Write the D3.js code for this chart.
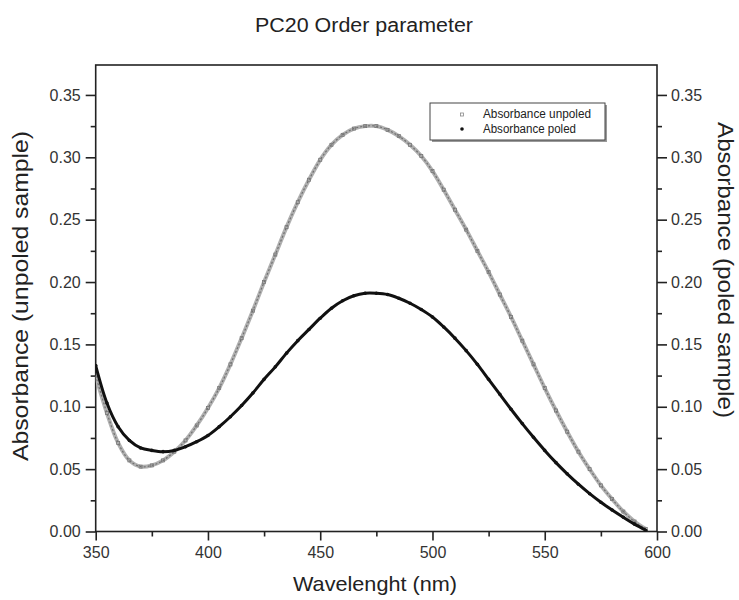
<!DOCTYPE html>
<html>
<head>
<meta charset="utf-8">
<script src="https://cdn.jsdelivr.net/npm/d3@7"></script>
<style>
  html, body { margin: 0; padding: 0; background: #fff; }
  svg { display: block; font-family: Arial, "Liberation Sans", sans-serif; }
</style>
</head>
<body>
<svg id="chart" width="739" height="600"></svg>
<script>
const title = "PC20 Order parameter";
const xLabel = "Wavelenght (nm)";
const yLabelLeft = "Absorbance (unpoled sample)";
const yLabelRight = "Absorbance (poled sample)";
const seriesNames = ["Absorbance unpoled", "Absorbance poled"];

const wavelengths = [350,355,360,365,370,375,380,385,390,395,400,405,410,415,420,425,430,435,440,445,450,455,460,465,470,475,480,485,490,495,500,505,510,515,520,525,530,535,540,545,550,555,560,565,570,575,580,585,590,595];
const unpoled = [0.125,0.095,0.071,0.057,0.052,0.053,0.057,0.064,0.073,0.085,0.099,0.115,0.134,0.155,0.177,0.200,0.222,0.244,0.264,0.282,0.298,0.310,0.318,0.323,0.325,0.325,0.322,0.317,0.310,0.301,0.289,0.274,0.258,0.242,0.225,0.208,0.190,0.172,0.153,0.134,0.115,0.097,0.080,0.064,0.050,0.037,0.026,0.016,0.008,0.002];
const poled = [0.133,0.103,0.084,0.073,0.067,0.065,0.064,0.065,0.068,0.072,0.077,0.084,0.092,0.101,0.111,0.122,0.132,0.143,0.153,0.162,0.171,0.179,0.185,0.189,0.191,0.191,0.190,0.187,0.183,0.178,0.172,0.164,0.155,0.145,0.134,0.122,0.110,0.098,0.0865,0.0755,0.065,0.0552,0.0462,0.0379,0.0303,0.0234,0.0172,0.0114,0.0059,0.001];

const xTicks = [350,400,450,500,550,600];
const xMinor = [375,425,475,525,575];
const yTicks = [0.00,0.05,0.10,0.15,0.20,0.25,0.30,0.35];
const yMinor = [0.025,0.075,0.125,0.175,0.225,0.275,0.325];

const svg = d3.select("#chart");
const m = {left: 95.7, right: 657, top: 65, bottom: 531.5};
const x = d3.scaleLinear().domain([350, 600]).range([m.left, m.right]);
const y = d3.scaleLinear().domain([0, 0.374]).range([m.bottom, m.top]);

const fmt = d3.format(".2f");
const axisColor = "#222";

// frame
svg.append("rect").attr("x", m.left).attr("y", m.top)
  .attr("width", m.right - m.left).attr("height", m.bottom - m.top)
  .attr("fill", "none").attr("stroke", axisColor).attr("stroke-width", 1.6);

// axes
const bottom = svg.append("g").attr("transform", `translate(0,${m.bottom})`)
  .call(d3.axisBottom(x).tickValues(xTicks).tickFormat(d3.format("d")).tickSize(9).tickPadding(6));
const bottomMinor = svg.append("g").attr("transform", `translate(0,${m.bottom})`)
  .call(d3.axisBottom(x).tickValues(xMinor).tickFormat("").tickSize(5));
const left = svg.append("g").attr("transform", `translate(${m.left},0)`)
  .call(d3.axisLeft(y).tickValues(yTicks).tickFormat(fmt).tickSize(10).tickPadding(5));
const leftMinor = svg.append("g").attr("transform", `translate(${m.left},0)`)
  .call(d3.axisLeft(y).tickValues(yMinor).tickFormat("").tickSize(5));
const right = svg.append("g").attr("transform", `translate(${m.right},0)`)
  .call(d3.axisRight(y).tickValues(yTicks).tickFormat(fmt).tickSize(10).tickPadding(4));
const rightMinor = svg.append("g").attr("transform", `translate(${m.right},0)`)
  .call(d3.axisRight(y).tickValues(yMinor).tickFormat("").tickSize(5));

[bottom, bottomMinor, left, leftMinor, right, rightMinor].forEach(g => {
  g.select(".domain").remove();
  g.selectAll("line").attr("stroke", axisColor).attr("stroke-width", 1.6);
  g.selectAll("text").attr("fill", "#333").style("font-size", "16px")
    .style("font-family", "Arial, 'Liberation Sans', sans-serif");
});

// titles
svg.append("text").attr("x", 364).attr("y", 32).attr("text-anchor", "middle")
  .style("font-size", "20px").attr("fill", "#222")
  .attr("textLength", 218).attr("lengthAdjust", "spacingAndGlyphs").text(title);
svg.append("text").attr("x", 375).attr("y", 591).attr("text-anchor", "middle")
  .style("font-size", "21px").attr("fill", "#222")
  .attr("textLength", 164).attr("lengthAdjust", "spacingAndGlyphs").text(xLabel);
svg.append("text").attr("transform", `translate(28,296) rotate(-90)`)
  .attr("text-anchor", "middle").style("font-size", "22px").attr("fill", "#222")
  .attr("textLength", 330).attr("lengthAdjust", "spacingAndGlyphs").text(yLabelLeft);
svg.append("text").attr("transform", `translate(718,270) rotate(90)`)
  .attr("text-anchor", "middle").style("font-size", "22px").attr("fill", "#222")
  .attr("textLength", 296).attr("lengthAdjust", "spacingAndGlyphs").text(yLabelRight);

// series
svg.append("clipPath").attr("id", "clip").append("rect")
  .attr("x", m.left).attr("y", m.top).attr("width", m.right - m.left).attr("height", m.bottom - m.top);
const plot = svg.append("g").attr("clip-path", "url(#clip)");

const line = d3.line().x((d, i) => x(wavelengths[i])).y(d => y(d)).curve(d3.curveCatmullRom);

plot.append("path").datum(unpoled).attr("d", line)
  .attr("fill", "none").attr("stroke", "#b0b0b0").attr("stroke-width", 4);
plot.append("path").datum(unpoled).attr("d", line)
  .attr("fill", "none").attr("stroke", "#707070").attr("stroke-width", 1.2)
  .attr("stroke-dasharray", "2,2");
plot.selectAll(".sq").data(unpoled).enter().append("rect")
  .attr("x", (d, i) => x(wavelengths[i]) - 1.5).attr("y", d => y(d) - 1.5)
  .attr("width", 3).attr("height", 3).attr("fill", "none").attr("stroke", "#777").attr("stroke-width", 0.8);

plot.append("path").datum(poled).attr("d", line)
  .attr("fill", "none").attr("stroke", "#111").attr("stroke-width", 3);
plot.selectAll(".dot").data(poled).enter().append("circle")
  .attr("cx", (d, i) => x(wavelengths[i])).attr("cy", d => y(d)).attr("r", 1.8).attr("fill", "#111");

// legend
const lg = svg.append("g");
lg.append("rect").attr("x", 432).attr("y", 105).attr("width", 175).attr("height", 37).attr("fill", "#999");
lg.append("rect").attr("x", 430).attr("y", 103).attr("width", 175).attr("height", 37)
  .attr("fill", "#fff").attr("stroke", "#444").attr("stroke-width", 1);
lg.append("rect").attr("x", 460.5).attr("y", 113).attr("width", 3).attr("height", 3)
  .attr("fill", "none").attr("stroke", "#888").attr("stroke-width", 0.8);
lg.append("circle").attr("cx", 462).attr("cy", 129).attr("r", 1.8).attr("fill", "#111");
lg.append("text").attr("x", 483).attr("y", 118).style("font-size", "12px").attr("fill", "#222")
  .attr("textLength", 108).attr("lengthAdjust", "spacingAndGlyphs").text(seriesNames[0]);
lg.append("text").attr("x", 483).attr("y", 133).style("font-size", "12px").attr("fill", "#222")
  .attr("textLength", 93).attr("lengthAdjust", "spacingAndGlyphs").text(seriesNames[1]);
</script>
</body>
</html>
